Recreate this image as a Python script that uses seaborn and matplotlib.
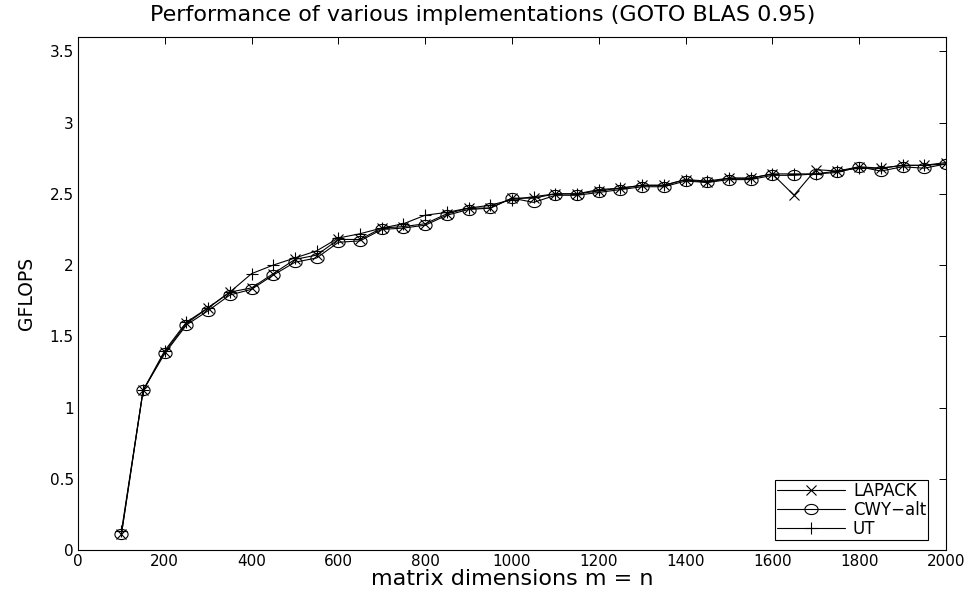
import numpy as np
import pandas as pd
import matplotlib
matplotlib.use("Agg")
import matplotlib.pyplot as plt
import seaborn as sns
from matplotlib.ticker import FuncFormatter
from matplotlib.path import Path

sizes = list(range(100, 2001, 50))
lapack = [0.11, 1.12, 1.39, 1.59, 1.70, 1.81, 1.84, 1.94, 2.04, 2.07,
          2.18, 2.18, 2.26, 2.27, 2.29, 2.36, 2.40, 2.40, 2.47, 2.47,
          2.50, 2.50, 2.52, 2.54, 2.56, 2.56, 2.60, 2.58, 2.61, 2.61,
          2.64, 2.49, 2.67, 2.66, 2.69, 2.68, 2.70, 2.70, 2.72]
cwy_alt = [0.11, 1.12, 1.38, 1.58, 1.68, 1.79, 1.83, 1.93, 2.02, 2.05,
           2.16, 2.17, 2.25, 2.26, 2.28, 2.35, 2.39, 2.40, 2.47, 2.44,
           2.49, 2.49, 2.51, 2.53, 2.55, 2.55, 2.59, 2.58, 2.60, 2.60,
           2.63, 2.63, 2.64, 2.65, 2.69, 2.66, 2.69, 2.68, 2.71]
ut = [0.13, 1.12, 1.40, 1.60, 1.70, 1.81, 1.94, 2.00, 2.05, 2.10,
      2.19, 2.22, 2.26, 2.29, 2.35, 2.37, 2.40, 2.42, 2.46, 2.48,
      2.50, 2.50, 2.53, 2.54, 2.56, 2.56, 2.60, 2.59, 2.61, 2.61,
      2.64, 2.64, 2.64, 2.66, 2.68, 2.68, 2.70, 2.70, 2.71]
series_names = ["LAPACK", "CWY-alt", "UT"]
legend_labels = ["LAPACK", "CWY\u2212alt", "UT"]
xticks = list(range(0, 2001, 200))
yticks = [0, 0.5, 1, 1.5, 2, 2.5, 3, 3.5]

df = pd.DataFrame({
    "n": sizes * 3,
    "gflops": lapack + cwy_alt + ut,
    "impl": sum([[nm] * len(sizes) for nm in series_names], []),
})

sns.set_theme(style="white")
plt.rcParams["font.family"] = ["DejaVu Sans"]
plt.rcParams["xtick.direction"] = "in"
plt.rcParams["ytick.direction"] = "in"
plt.rcParams["text.color"] = "black"
plt.rcParams["axes.labelcolor"] = "black"
plt.rcParams["xtick.color"] = "black"
plt.rcParams["ytick.color"] = "black"

# slightly wide ellipse marker (as in the reference rendering)
t = np.linspace(0, 2 * np.pi, 41)
ellipse = Path(np.column_stack([1.3 * np.cos(t), np.sin(t)]), closed=True)
markers = ["x", ellipse, "+"]
msizes = {"LAPACK": 7, "CWY-alt": 9.5, "UT": 9}

fig = plt.figure(figsize=(9.69, 5.95), dpi=100)
ax = fig.add_axes([0.0805, 0.0756, 0.8957, 0.862])

for nm, lab, mk in zip(series_names, legend_labels, markers):
    sub = df[df["impl"] == nm]
    sns.lineplot(data=sub, x="n", y="gflops", ax=ax, color="black",
                 linewidth=0.8, marker=mk, markersize=msizes[nm],
                 markerfacecolor="none", markeredgecolor="black",
                 markeredgewidth=0.8, label=lab, estimator=None)

ax.set_xlim(0, 2000)
ax.set_ylim(0, 3.6)
ax.set_xticks(xticks)
ax.set_yticks(yticks)
ax.yaxis.set_major_formatter(FuncFormatter(lambda v, p: f"{v:g}"))
ax.tick_params(axis="both", which="both", length=5, width=0.7, color="black",
               labelcolor="black", labelsize=11, top=True, right=True, pad=3)
for s in ax.spines.values():
    s.set_visible(True)
    s.set_color("black")
    s.set_linewidth(0.8)

ax.set_xlabel("matrix dimensions m = n", fontsize=16, labelpad=0, color="black")
ax.set_ylabel("GFLOPS", fontsize=13.5, labelpad=10, color="black")
fig.suptitle("Performance of various implementations (GOTO BLAS 0.95)",
             fontsize=16, x=0.498, y=0.991, va="top", color="black")

leg = ax.legend(loc="lower right", bbox_to_anchor=(0.9795, 0.02),
                fontsize=12, frameon=True, fancybox=False,
                edgecolor="black", framealpha=1, handlelength=4.1,
                borderaxespad=0.0, borderpad=0.12, labelspacing=0.05,
                handletextpad=0.45)
leg.get_frame().set_linewidth(0.8)
for txt in leg.get_texts():
    txt.set_color("black")

fig.savefig("out.png", dpi=100)
